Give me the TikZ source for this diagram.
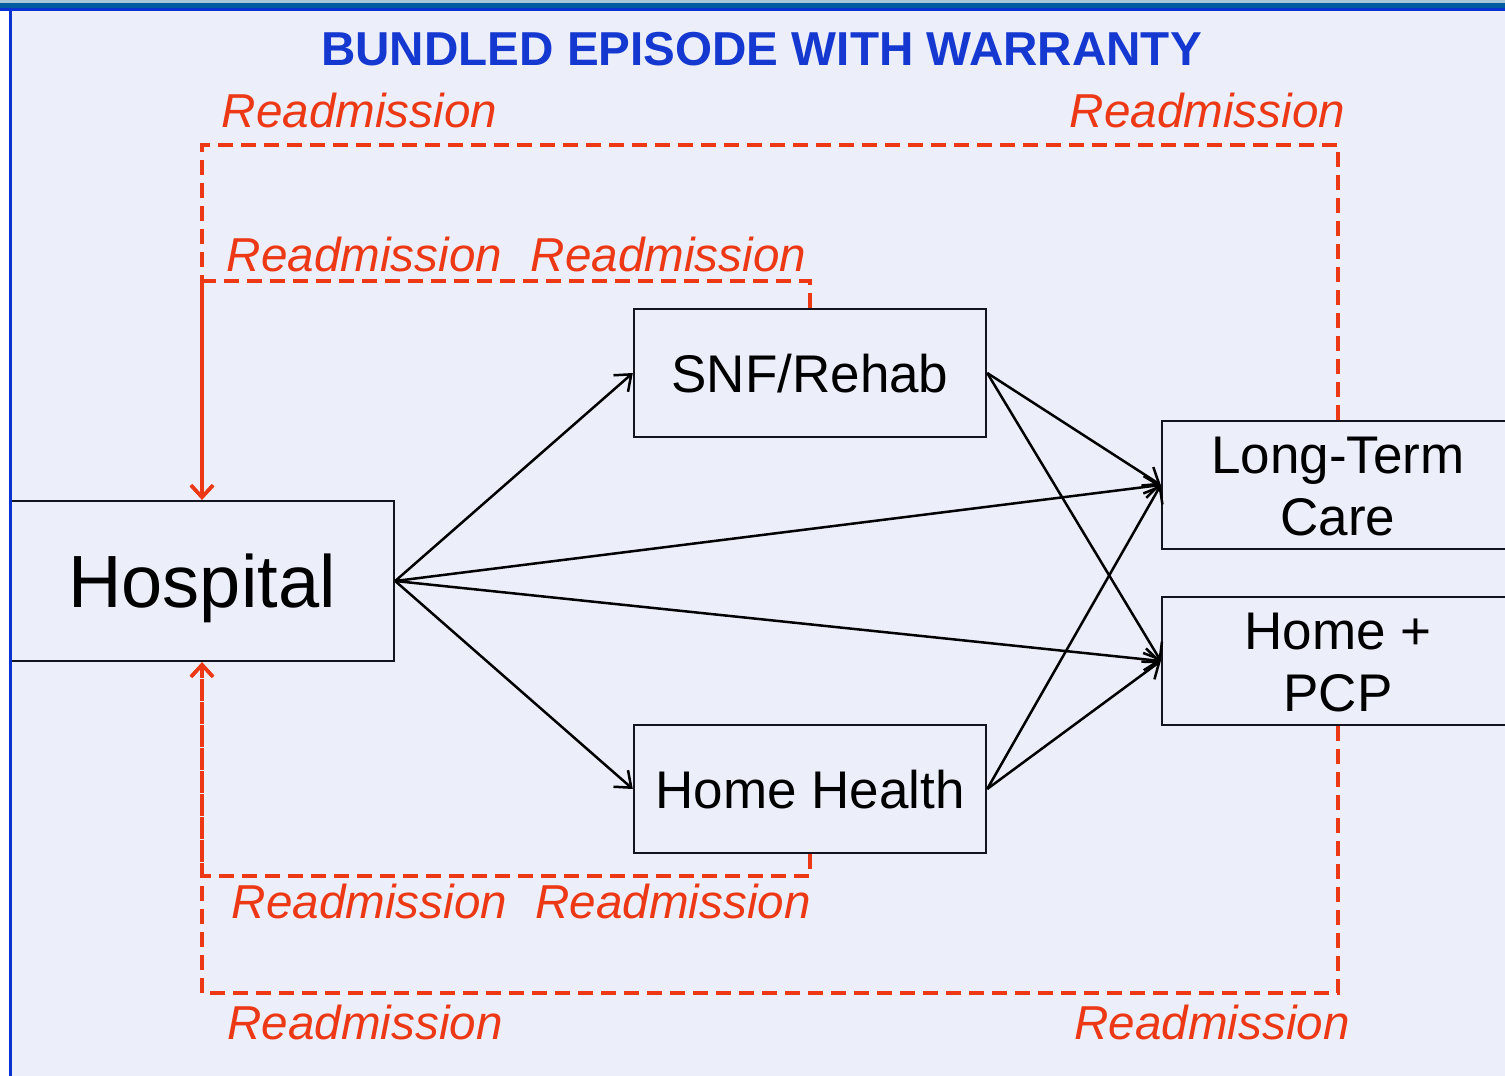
\documentclass[tikz,border=0pt]{standalone}
\usepackage{fontspec}
\setmainfont{Liberation Sans}
\usetikzlibrary{arrows.meta}
\definecolor{bgpanel}{RGB}{236,238,250}
\definecolor{readm}{RGB}{236,56,20}
\definecolor{titleblue}{RGB}{20,56,208}
\definecolor{edgeblue}{RGB}{10,50,210}
\definecolor{barteal}{RGB}{0,94,160}
\definecolor{barlight}{RGB}{168,200,216}
\definecolor{boxline}{RGB}{20,20,30}
\begin{document}
\begin{tikzpicture}[x=1pt,y=-1pt,
  stagebox/.style={draw=boxline,line width=2.4pt,minimum width=352pt,minimum height=128pt,
    inner sep=0pt,font=\fontsize{53}{62}\selectfont,text height=38pt,text depth=0pt,align=center},
  twoline/.style={text height=100pt,text depth=0pt},
  flow/.style={draw=black,line width=2.5pt,-{Straight Barb[length=14pt,width=22pt]}},
  readpath/.style={draw=readm,line width=3.5pt,dash pattern=on 15pt off 8pt},
  readtip/.style={-{Straight Barb[length=12pt,width=22pt]}},
  readlabel/.style={text=readm,font=\fontsize{47.6}{50}\selectfont\itshape,anchor=base,inner sep=0pt}]
\useasboundingbox (0,0) rectangle (1505,1076);
% panel background and frame
\fill[white] (0,0) rectangle (1505,1076);
\fill[bgpanel] (10,10) rectangle (1505,1076);
\fill[barlight] (0,0) rectangle (1505,3);
\fill[barteal] (0,3) rectangle (1505,8);
\fill[edgeblue] (0,8) rectangle (1505,10.5);

% title
\node[text=titleblue,font=\fontsize{47.6}{50}\selectfont\bfseries,anchor=base,inner sep=0pt]
  (title) at (761.5,65) {BUNDLED EPISODE WITH WARRANTY};

% care settings
\node[stagebox,minimum width=384pt,minimum height=160pt,font=\fontsize{74}{80}\selectfont,text height=53pt]
  (hosp) at (202,581) {Hospital};
\node[stagebox] (snf) at (810,373) {SNF/Rehab};
\node[stagebox] (hh) at (810,789) {Home Health};
\node[stagebox,twoline] (ltc) at (1338,485) {Long-Term\\Care};
\node[stagebox,twoline] (pcp) at (1338,661) {Home +\\PCP};

% patient flow
\draw[flow] (hosp.east) -- (snf.west);
\draw[flow] (hosp.east) -- (ltc.west);
\draw[flow] (hosp.east) -- (pcp.west);
\draw[flow] (hosp.east) -- (hh.west);
\draw[flow] (snf.east) -- (ltc.west);
\draw[flow] (snf.east) -- (pcp.west);
\draw[flow] (hh.east) -- (ltc.west);
\draw[flow] (hh.east) -- (pcp.west);

% readmission loops back to the hospital
\coordinate (topouter) at (202,145);
\coordinate (topinner) at (202,281);
\coordinate (botinner) at (202,876);
\coordinate (botouter) at (202,993);
\draw[readpath,readtip] (ltc.north) |- (topouter) -- (hosp.north);
\draw[readpath,readtip] (snf.north) |- (topinner) -- (hosp.north);
\draw[readpath,readtip] (pcp.south) |- (botouter) -- (hosp.south);
\draw[readpath,readtip] (hh.south) |- (botinner) -- (hosp.south);

\node[readlabel] (r1) at (359.5,127) {Readmission};
\node[readlabel] (r2) at (1207.5,127) {Readmission};
\node[readlabel] (r3) at (364.5,271) {Readmission};
\node[readlabel] (r4) at (668.5,271) {Readmission};
\node[readlabel] (r5) at (369.5,918) {Readmission};
\node[readlabel] (r6) at (673,918) {Readmission};
\node[readlabel] (r7) at (365,1039) {Readmission};
\node[readlabel] (r8) at (1212,1039) {Readmission};

% left edge of the panel
\draw[edgeblue,line width=3pt] (10,10) -- (10,1076);
\end{tikzpicture}
\end{document}
